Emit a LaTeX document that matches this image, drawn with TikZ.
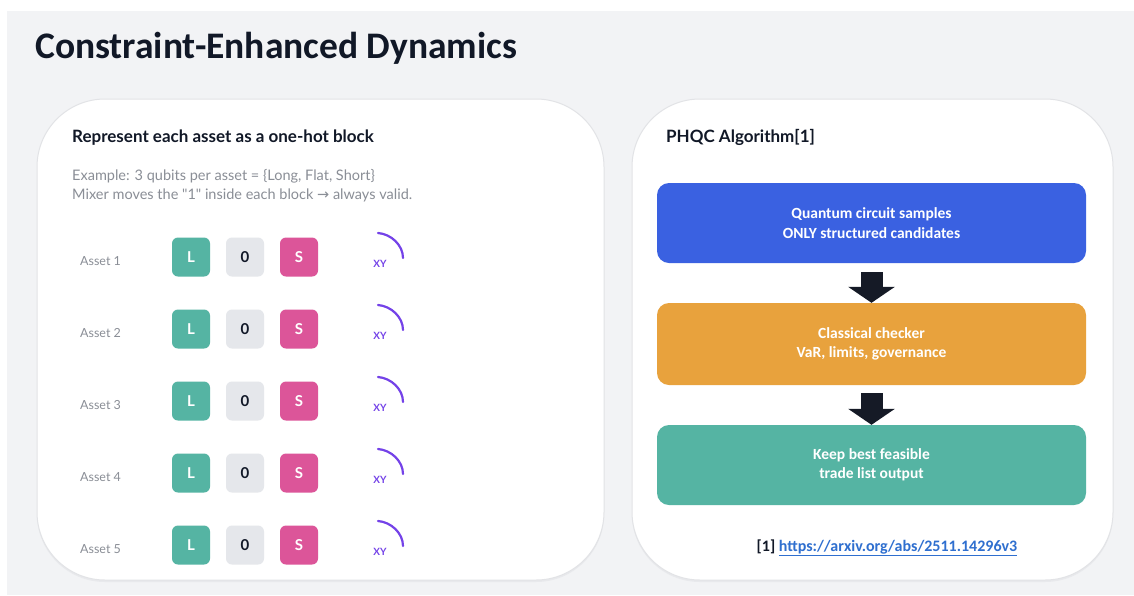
\documentclass[tikz,border=0pt]{standalone}
\usepackage{fontspec}
\setmainfont{Carlito}
\newfontfamily\ui{Lato}
\newfontfamily\dejavu{DejaVu Sans}
\usetikzlibrary{arrows.meta,calc}
\definecolor{bggray}{HTML}{F2F3F5}
\definecolor{cardline}{HTML}{E2E3E6}
\definecolor{shadowc}{HTML}{E8E9EC}
\definecolor{ink}{HTML}{111827}
\definecolor{muted}{HTML}{8A8E96}
\definecolor{tealc}{HTML}{55B4A3}
\definecolor{pinkc}{HTML}{DC5599}
\definecolor{zeroc}{HTML}{E5E7EB}
\definecolor{bluec}{HTML}{3A61E1}
\definecolor{orangec}{HTML}{E8A23D}
\definecolor{arrowc}{HTML}{151A26}
\definecolor{purplec}{HTML}{7442E8}
\definecolor{linkc}{HTML}{2F6FCF}
\tikzset{
  card/.style={fill=white, draw=cardline, line width=1pt, rounded corners=68pt},
  cardshadow/.style={fill=shadowc, rounded corners=68pt},
  qbit/.style={minimum width=38pt, minimum height=39pt, inner sep=0pt, rounded corners=6pt,
     font=\ui\bfseries\fontsize{15}{17}\selectfont},
  assetlbl/.style={anchor=base west, inner sep=0pt, text=muted, font=\ui\fontsize{12.5}{14}\selectfont},
  xylbl/.style={anchor=base, inner sep=0pt, text=purplec, font=\ui\bfseries\fontsize{10}{11}\selectfont},
  xyarc/.style={draw=purplec, line width=2.2pt, line cap=round},
  flowbox/.style={minimum width=429pt, inner sep=0pt, rounded corners=12pt, text=white,
     align=center, font=\bfseries\fontsize{15.5}{19.5}\selectfont},
  blockarrow/.style={draw=arrowc, line width=22pt, -{Triangle[width=46pt,length=16pt]}},
  heading/.style={anchor=base west, inner sep=0pt, text=ink, font=\ui\bfseries\fontsize{17}{20}\selectfont},
  note/.style={anchor=base west, inner sep=0pt, text=muted, font=\ui\fontsize{14.5}{19}\selectfont},
}
\begin{document}
\begin{tikzpicture}[x=1pt, y=-1pt]
\useasboundingbox (0,0) rectangle (1134,595);
\fill[white] (0,0) rectangle (1134,595);
\fill[bggray] (7,11) rectangle (1134,595);
% title
\node[anchor=base west, inner sep=0pt, text=ink, font=\bfseries\fontsize{37.5}{44}\selectfont] (title) at (35,58) {Constraint-Enhanced Dynamics};
% cards
\fill[cardshadow] (37,100.5) rectangle (604,582);
\draw[card] (37,99) rectangle (604,580);
\fill[cardshadow] (632,100.5) rectangle (1113,582);
\draw[card] (632,99) rectangle (1113,580);
% left card
\node[heading] (lhead) at (72,142) {Represent each asset as a one-hot block};
\node[note] (ex) at (72,180) {Example: 3 qubits per asset = \{Long, Flat, Short\}};
\node[note] (mix) at (72,199)
  {Mixer moves the "1" inside each block {\dejavu\fontsize{14.5}{16}\selectfont →} always valid.};
\foreach \i/\c in {1/257,2/329,3/401,4/473,5/545}{
  \node[assetlbl] (asset\i) at (80,{\c+8}) {Asset \i};
  \node[qbit, fill=tealc, text=white] (L\i) at (191,\c) {L};
  \node[qbit, fill=zeroc, text=ink] (Z\i) at (245,\c) {0};
  \node[qbit, fill=pinkc, text=white] (S\i) at (299,\c) {S};
  \node[xylbl] (xy\i) at (380,{\c+10}) {XY};
  \draw[xyarc] (378,{\c-24}) .. controls (391,{\c-23}) and (403,{\c-12}) .. (403,{\c+1});
}
% right card
\node[heading] (rhead) at (666,142) {PHQC Algorithm[1]};
\node[flowbox, fill=bluec, minimum height=80pt] (b1) at (871.5,223) {Quantum circuit samples\\ONLY structured candidates};
\node[flowbox, fill=orangec, minimum height=82pt] (b2) at (871.5,344) {Classical checker\\VaR, limits, governance};
\node[flowbox, fill=tealc, minimum height=80pt] (b3) at (871.5,465) {Keep best feasible\\trade list output};
\draw[blockarrow] ([yshift=-9pt]b1.south) -- (b2.north);
\draw[blockarrow] ([yshift=-8pt]b2.south) -- (b3.north);
\node[inner sep=0pt, anchor=base, text=ink, font=\bfseries\fontsize{16}{18}\selectfont] (ref) at (887,551)
  {[1] \textcolor{linkc}{\underline{https://arxiv.org/abs/2511.14296v3}}};
\end{tikzpicture}
\end{document}
